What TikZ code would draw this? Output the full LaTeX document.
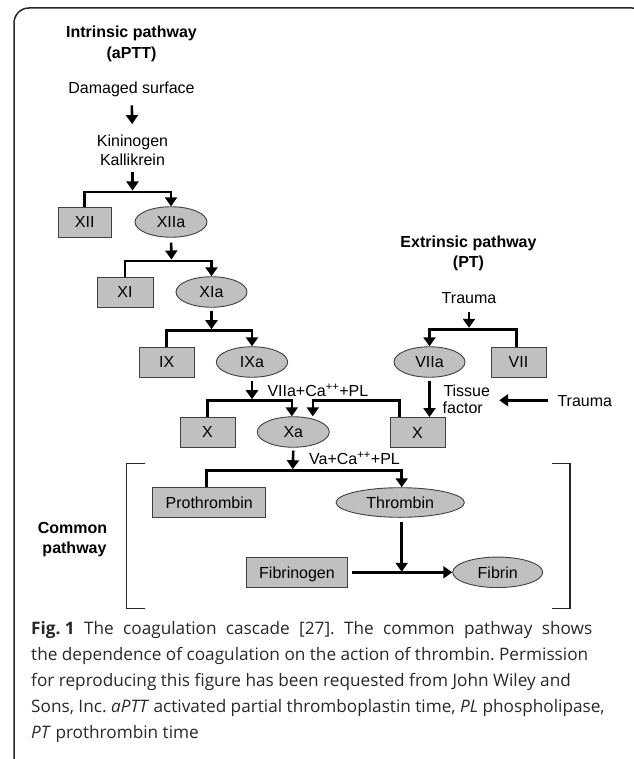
\documentclass[tikz,border=0pt]{standalone}
\usepackage{fontspec}
\setmainfont{Liberation Sans}
\newfontfamily\capfont{Open Sans}
\usetikzlibrary{arrows.meta,shapes.geometric}
\definecolor{nodefill}{HTML}{C0C0C0}
\definecolor{nodeedge}{HTML}{404040}
\definecolor{captxt}{HTML}{2A2728}
\tikzset{
  nodebase/.style={draw=nodeedge,fill=nodefill,line width=0.9pt,inner sep=0pt,font=\fontsize{16}{19}\selectfont,text height=11.5pt,text depth=0pt},
  box/.style={nodebase,rectangle,minimum width=#1,minimum height=30pt},
  oval/.style={nodebase,ellipse,minimum width=#1,minimum height=30.5pt},
  txt/.style={inner sep=0pt,font=\fontsize{16}{19}\selectfont,text height=11.5pt,text depth=0pt},
  btxt/.style={inner sep=0pt,font=\fontsize{16}{19}\selectfont\bfseries,text height=11.5pt,text depth=0pt},
  arr/.style={line width=2.6pt,line join=miter,-{Triangle[width=12pt,length=9pt]}},
  brk/.style={line width=1.4pt,draw=black!85},
  captionline/.style={inner sep=0pt,anchor=base west,text=captxt,font=\capfont\fontsize{17.2}{26}\selectfont\frenchspacing},
}
\begin{document}
\begin{tikzpicture}[x=1pt,y=-1pt]
\useasboundingbox (0,0) rectangle (633,759);
% frame
\draw[line width=1.5pt,draw=black!85,rounded corners=15pt] (14,790) -- (14,8) -- (647,8) -- (647,790);

% intrinsic
\node[btxt] (t1a) at (131.5,31.5) {Intrinsic pathway};
\node[btxt] (t1b) at (131.5,53) {(aPTT)};
\node[txt] (dmg) at (131.5,87.5) {Damaged surface};
\node[txt] (kin) at (132.5,141) {Kininogen};
\node[txt] (kal) at (132.5,159.5) {Kallikrein};

\node[box=52.7pt] (XII) at (84.7,222) {XII};
\node[oval=72pt] (XIIa) at (171,222) {XIIa};
\node[box=56pt] (XI) at (125,292) {XI};
\node[oval=71pt] (XIa) at (211.5,292) {XIa};
\node[box=54.7pt] (IX) at (166.7,362) {IX};
\node[oval=71.3pt] (IXa) at (252,362) {IXa};
\node[box=55pt] (Xl) at (207.5,432) {X};
\node[oval=72pt] (Xa) at (293.3,432) {Xa};

% extrinsic
\node[btxt] (t2a) at (468.5,241.5) {Extrinsic pathway};
\node[btxt] (t2b) at (468.5,261.5) {(PT)};
\node[txt] (tr1) at (469,297.5) {Trauma};
\node[oval=71pt] (VIIa) at (429.5,362) {VIIa};
\node[box=55pt] (VII) at (518.5,362) {VII};
\node[box=55pt] (Xr) at (417.5,432.5) {X};
\node[txt,anchor=west] (tis) at (443.3,390.7) {Tissue};
\node[txt,anchor=west] (fac) at (442.5,407.3) {factor};
\node[txt,anchor=west] (tr2) at (557.3,400.3) {Trauma};
\node[txt,anchor=west] (lab1) at (267.3,391) {VIIa+Ca\textsuperscript{++}+PL};

% common
\node[txt,anchor=west] (lab2) at (309,459.2) {Va+Ca\textsuperscript{++}+PL};
\node[box=113pt,minimum height=29.6pt] (pro) at (209.2,502.5) {Prothrombin};
\node[oval=128.3pt,minimum height=29.6pt] (thr) at (400.2,502.5) {Thrombin};
\node[box=100.7pt] (fbg) at (297,572.3) {Fibrinogen};
\node[oval=90pt] (fbn) at (497.7,572.3) {Fibrin};
\node[btxt,anchor=east] (com1) at (107.3,527.5) {Common};
\node[btxt,anchor=east] (com2) at (106.7,548) {pathway};

% junctions
\coordinate (j1) at (132.5,192);
\coordinate (j2) at (171.5,261);
\coordinate (j3) at (212,330.7);
\coordinate (j4) at (252.7,400.7);
\coordinate (j5) at (469,329.3);
\coordinate (j6) at (292.7,470.7);
\coordinate (j7) at (401.7,573.3);

% connectors intrinsic
\draw[arr,shorten <=12pt,shorten >=11pt] (dmg) -- (kin);
\draw[arr,shorten <=6.5pt,shorten >=1.5pt] (kal.south) -- (j1);
\draw[arr] (XII.north) |- (XIIa.north |- j1) -- (XIIa.north);
\draw[arr,shorten <=5pt,shorten >=1.5pt] (XIIa.south) -- (j2);
\draw[arr] (XI.north) |- (XIa.north |- j2) -- (XIa.north);
\draw[arr,shorten <=3.5pt,shorten >=1.5pt] (XIa.south) -- (XIa.south |- j3);
\draw[arr] (IX.north) |- (IXa.north |- j3) -- (IXa.north);
\draw[arr,shorten <=3.5pt,shorten >=1.5pt] (IXa.south) -- (IXa.south |- j4);
\draw[arr] (Xl.north) |- ([xshift=-1.5pt]Xa.north |- j4) -- ([xshift=-1.5pt]Xa.north);
\draw[arr] ([xshift=-18pt]Xr.north) |- ([xshift=19.5pt]Xa.north |- j4) -- ([xshift=19.5pt]Xa.north);

% connectors extrinsic
\draw[arr,shorten <=8.5pt,shorten >=1.5pt] (tr1.south) -- (j5);
\draw[arr] ([xshift=-1.8pt]VII.north) |- (VIIa.north |- j5) -- (VIIa.north);
\draw[arr,shorten <=3pt] (VIIa.south) -- (VIIa.south |- Xr.north);
\draw[arr,shorten <=9pt] (tr2.west) -- ([xshift=9pt]tis.east |- tr2.west);

% connectors common
\draw[arr,shorten <=3pt,shorten >=1.5pt] (Xa.south) -- (j6);
\draw[arr] ([xshift=-2.5pt]pro.north) |- ([xshift=1.5pt]thr.north |- j6) -- ([xshift=1.5pt]thr.north);
\draw[arr,shorten <=4.4pt,shorten >=1.5pt] ([xshift=1.5pt]thr.south) -- (j7);
\draw[arr,shorten <=4.4pt] (fbg.east) -- (fbn.west);

% brackets
\draw[brk] (145,463.3) -- (126.7,463.3) -- (126.7,608.3) -- (145,608.3);
\draw[brk] (551.7,463.3) -- (570,463.3) -- (570,608.3) -- (551.7,608.3);

% caption
\node[captionline] (c1) at (31,634) {\hbox to 561pt{\mbox{\textbf{Fig. 1}} The coagulation cascade [27]. The common pathway shows}};
\node[captionline] (c2) at (31,660) {the dependence of coagulation on the action of thrombin. Permission};
\node[captionline] (c3) at (31,686) {for reproducing this figure has been requested from John Wiley and};
\node[captionline] (c4) at (31,712) {Sons, Inc. \textit{aPTT} activated partial thromboplastin time, \textit{PL} phospholipase,};
\node[captionline] (c5) at (31,738) {\textit{PT} prothrombin time};
\end{tikzpicture}
\end{document}
